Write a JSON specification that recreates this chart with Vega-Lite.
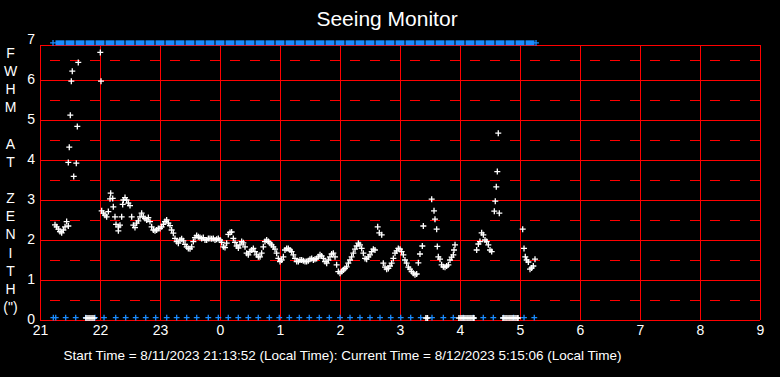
{
  "$schema": "https://vega.github.io/schema/vega-lite/v6.json",
  "width": 720,
  "height": 280,
  "autosize": {"type": "none"},
  "padding": {"left": 40, "top": 40, "right": 20, "bottom": 57},
  "background": "black",
  "config": {"view": {"stroke": null}, "font": "Liberation Sans", "axis": {"labelOverlap": false}},
  "title": {"text": "Seeing Monitor", "color": "white", "fontSize": 21, "font": "Liberation Sans", "fontWeight": "normal", "anchor": "middle", "dx": -13, "dy": 25, "baseline": "alphabetic", "offset": 11},
  "datasets": {
    "hgrid": [{"v":0},{"v":1},{"v":2},{"v":3},{"v":4},{"v":5},{"v":6}],
    "ylabels": [{"v":0},{"v":1},{"v":2},{"v":3},{"v":4},{"v":5},{"v":6},{"v":7}],
    "dgrid": [{"v":0.5},{"v":1.5},{"v":2.5},{"v":3.5},{"v":4.5},{"v":5.5},{"v":6.5}],
    "vgrid": [{"h":21},{"h":22},{"h":23},{"h":24},{"h":25},{"h":26},{"h":27},{"h":28},{"h":29},{"h":30},{"h":31},{"h":32},{"h":33}],
    "blueTop": [{"h":21.333},{"h":21.5},{"h":21.667},{"h":21.833},{"h":22.0},{"h":22.167},{"h":22.333},{"h":22.5},{"h":22.667},{"h":22.833},{"h":23.0},{"h":23.167},{"h":23.333},{"h":23.5},{"h":23.667},{"h":23.833},{"h":24.0},{"h":24.167},{"h":24.333},{"h":24.5},{"h":24.667},{"h":24.833},{"h":25.0},{"h":25.167},{"h":25.333},{"h":25.5},{"h":25.667},{"h":25.833},{"h":26.0},{"h":26.167},{"h":26.333},{"h":26.5},{"h":26.667},{"h":26.833},{"h":27.0},{"h":27.167},{"h":27.333},{"h":27.5},{"h":27.667},{"h":27.833},{"h":28.0},{"h":28.167},{"h":28.333},{"h":28.5},{"h":28.667},{"h":28.833},{"h":29.0},{"h":29.167}],
    "blueTopEnds": [{"h":21.217},{"h":29.267}],
    "blueBottom": [{"h":21.222},{"h":21.262},{"h":21.428},{"h":21.595},{"h":21.762},{"h":21.917},{"h":22.067},{"h":22.262},{"h":22.428},{"h":22.595},{"h":22.762},{"h":22.928},{"h":23.112},{"h":23.278},{"h":23.445},{"h":23.612},{"h":23.805},{"h":23.972},{"h":24.138},{"h":24.305},{"h":24.472},{"h":24.638},{"h":24.822},{"h":24.988},{"h":25.155},{"h":25.322},{"h":25.488},{"h":25.655},{"h":25.822},{"h":26.0},{"h":26.167},{"h":26.333},{"h":26.5},{"h":26.667},{"h":26.845},{"h":27.012},{"h":27.178},{"h":27.345},{"h":27.533},{"h":27.722},{"h":27.888},{"h":28.055},{"h":28.222},{"h":28.388},{"h":28.555},{"h":28.725},{"h":28.892},{"h":29.067},{"h":29.238}],
    "whiteBottom": [{"h":21.767},{"h":21.8},{"h":21.833},{"h":21.867},{"h":21.9},{"h":27.433},{"h":27.458},{"h":27.983},{"h":28.017},{"h":28.05},{"h":28.083},{"h":28.117},{"h":28.15},{"h":28.183},{"h":28.217},{"h":28.233},{"h":28.717},{"h":28.75},{"h":28.783},{"h":28.817},{"h":28.85},{"h":28.883},{"h":28.917},{"h":28.95},{"h":28.967}],
    "fwhm": [
      {"h":21.25,"v":2.38},{"h":21.278,"v":2.33},{"h":21.306,"v":2.27},{"h":21.333,"v":2.21},{"h":21.361,"v":2.18},{"h":21.389,"v":2.25},{"h":21.417,"v":2.33},{"h":21.444,"v":2.46},{"h":21.472,"v":2.35},
      {"h":21.472,"v":3.94},{"h":21.488,"v":4.32},{"h":21.505,"v":5.12},{"h":21.522,"v":5.97},{"h":21.538,"v":6.22},{"h":21.562,"v":3.59},{"h":21.605,"v":3.92},{"h":21.622,"v":4.84},{"h":21.638,"v":6.44},
      {"h":22.005,"v":6.69},{"h":22.017,"v":5.97},
      {"h":22.028,"v":2.73},{"h":22.056,"v":2.67},{"h":22.083,"v":2.62},{"h":22.111,"v":2.58},{"h":22.139,"v":2.71},{"h":22.167,"v":3.03},{"h":22.178,"v":3.17},{"h":22.212,"v":3.04},{"h":22.222,"v":2.83},{"h":22.25,"v":2.58},{"h":22.267,"v":2.39},{"h":22.306,"v":2.33},{"h":22.306,"v":2.23},{"h":22.333,"v":2.37},{"h":22.361,"v":2.58},{"h":22.378,"v":2.89},{"h":22.389,"v":3.0},{"h":22.417,"v":3.06},{"h":22.444,"v":3.0},{"h":22.472,"v":2.92},{"h":22.5,"v":2.86},{"h":22.528,"v":2.58},{"h":22.556,"v":2.37},{"h":22.583,"v":2.31},{"h":22.611,"v":2.42},{"h":22.639,"v":2.48},{"h":22.667,"v":2.58},{"h":22.694,"v":2.67},{"h":22.722,"v":2.58},{"h":22.75,"v":2.54},{"h":22.778,"v":2.5},{"h":22.806,"v":2.56},{"h":22.833,"v":2.46},{"h":22.861,"v":2.33},{"h":22.889,"v":2.25},{"h":22.917,"v":2.23},{"h":22.944,"v":2.25},{"h":22.972,"v":2.29},
      {"h":23.0,"v":2.29},{"h":23.028,"v":2.33},{"h":23.056,"v":2.39},{"h":23.083,"v":2.46},{"h":23.111,"v":2.5},{"h":23.139,"v":2.42},{"h":23.167,"v":2.36},{"h":23.194,"v":2.25},{"h":23.222,"v":2.17},{"h":23.25,"v":2.04},{"h":23.278,"v":1.96},{"h":23.306,"v":1.92},{"h":23.333,"v":2.0},{"h":23.361,"v":2.03},{"h":23.389,"v":1.98},{"h":23.417,"v":1.89},{"h":23.444,"v":1.83},{"h":23.472,"v":1.79},{"h":23.5,"v":1.78},{"h":23.528,"v":1.83},{"h":23.556,"v":1.96},{"h":23.583,"v":2.06},{"h":23.611,"v":2.11},{"h":23.639,"v":2.08},{"h":23.667,"v":2.06},{"h":23.694,"v":2.04},{"h":23.722,"v":2.06},{"h":23.75,"v":2.0},{"h":23.778,"v":2.0},{"h":23.806,"v":2.04},{"h":23.833,"v":2.04},{"h":23.861,"v":2.03},{"h":23.889,"v":2.04},{"h":23.917,"v":2.0},{"h":23.944,"v":2.02},{"h":23.972,"v":2.04},
      {"h":24.0,"v":2.0},{"h":24.028,"v":1.94},{"h":24.056,"v":1.83},{"h":24.083,"v":1.81},{"h":24.111,"v":1.92},{"h":24.139,"v":2.14},{"h":24.167,"v":2.19},{"h":24.194,"v":2.2},{"h":24.222,"v":2.04},{"h":24.25,"v":1.94},{"h":24.278,"v":1.85},{"h":24.306,"v":1.8},{"h":24.333,"v":1.88},{"h":24.361,"v":1.96},{"h":24.389,"v":1.93},{"h":24.417,"v":1.83},{"h":24.444,"v":1.67},{"h":24.472,"v":1.63},{"h":24.5,"v":1.71},{"h":24.528,"v":1.75},{"h":24.556,"v":1.79},{"h":24.583,"v":1.71},{"h":24.611,"v":1.63},{"h":24.639,"v":1.58},{"h":24.667,"v":1.58},{"h":24.694,"v":1.67},{"h":24.722,"v":1.83},{"h":24.75,"v":1.96},{"h":24.778,"v":2.0},{"h":24.806,"v":1.96},{"h":24.833,"v":1.92},{"h":24.861,"v":1.88},{"h":24.889,"v":1.83},{"h":24.917,"v":1.77},{"h":24.944,"v":1.67},{"h":24.972,"v":1.54},
      {"h":25.0,"v":1.46},{"h":25.028,"v":1.5},{"h":25.056,"v":1.58},{"h":25.083,"v":1.75},{"h":25.111,"v":1.79},{"h":25.139,"v":1.79},{"h":25.167,"v":1.75},{"h":25.194,"v":1.71},{"h":25.222,"v":1.63},{"h":25.25,"v":1.54},{"h":25.278,"v":1.46},{"h":25.306,"v":1.46},{"h":25.333,"v":1.5},{"h":25.361,"v":1.5},{"h":25.389,"v":1.48},{"h":25.417,"v":1.46},{"h":25.444,"v":1.46},{"h":25.472,"v":1.48},{"h":25.5,"v":1.52},{"h":25.528,"v":1.54},{"h":25.556,"v":1.5},{"h":25.583,"v":1.52},{"h":25.611,"v":1.54},{"h":25.639,"v":1.58},{"h":25.667,"v":1.63},{"h":25.694,"v":1.6},{"h":25.722,"v":1.54},{"h":25.75,"v":1.46},{"h":25.778,"v":1.42},{"h":25.806,"v":1.5},{"h":25.833,"v":1.58},{"h":25.861,"v":1.65},{"h":25.889,"v":1.67},{"h":25.917,"v":1.58},{"h":25.944,"v":1.38},{"h":25.972,"v":1.21},
      {"h":26.0,"v":1.17},{"h":26.028,"v":1.21},{"h":26.056,"v":1.25},{"h":26.083,"v":1.29},{"h":26.111,"v":1.33},{"h":26.139,"v":1.42},{"h":26.167,"v":1.5},{"h":26.194,"v":1.58},{"h":26.222,"v":1.67},{"h":26.25,"v":1.77},{"h":26.278,"v":1.85},{"h":26.306,"v":1.92},{"h":26.333,"v":1.88},{"h":26.361,"v":1.79},{"h":26.389,"v":1.67},{"h":26.417,"v":1.54},{"h":26.444,"v":1.52},{"h":26.472,"v":1.58},{"h":26.5,"v":1.63},{"h":26.528,"v":1.71},{"h":26.556,"v":1.77},{"h":26.583,"v":1.75},{"h":26.628,"v":2.33},{"h":26.655,"v":2.18},{"h":26.695,"v":2.13},{"h":26.722,"v":1.42},{"h":26.75,"v":1.32},{"h":26.778,"v":1.27},{"h":26.806,"v":1.29},{"h":26.833,"v":1.35},{"h":26.861,"v":1.42},{"h":26.889,"v":1.54},{"h":26.917,"v":1.67},{"h":26.944,"v":1.73},{"h":26.972,"v":1.79},
      {"h":27.0,"v":1.77},{"h":27.028,"v":1.71},{"h":27.056,"v":1.63},{"h":27.083,"v":1.5},{"h":27.111,"v":1.42},{"h":27.139,"v":1.32},{"h":27.167,"v":1.27},{"h":27.194,"v":1.21},{"h":27.222,"v":1.17},{"h":27.25,"v":1.13},{"h":27.278,"v":1.15},{"h":27.306,"v":1.43},{"h":27.333,"v":1.65},{"h":27.372,"v":1.85},{"h":27.389,"v":2.35},{"h":27.528,"v":3.02},{"h":27.567,"v":2.73},{"h":27.583,"v":2.52},{"h":27.611,"v":2.27},{"h":27.622,"v":1.84},{"h":27.639,"v":1.58},{"h":27.667,"v":1.52},{"h":27.694,"v":1.38},{"h":27.722,"v":1.33},{"h":27.75,"v":1.32},{"h":27.778,"v":1.35},{"h":27.806,"v":1.38},{"h":27.833,"v":1.5},{"h":27.861,"v":1.57},{"h":27.889,"v":1.63},{"h":27.9,"v":1.75},{"h":27.917,"v":1.88},
      {"h":28.278,"v":1.75},{"h":28.306,"v":1.9},{"h":28.333,"v":1.96},{"h":28.361,"v":2.18},{"h":28.389,"v":2.13},{"h":28.417,"v":2.0},{"h":28.444,"v":1.96},{"h":28.472,"v":1.88},{"h":28.5,"v":1.75},{"h":28.528,"v":1.71},{"h":28.572,"v":2.72},{"h":28.588,"v":2.97},{"h":28.605,"v":3.33},{"h":28.622,"v":3.71},{"h":28.638,"v":4.67},{"h":28.655,"v":2.67},
      {"h":29.045,"v":2.27},{"h":29.067,"v":1.79},{"h":29.088,"v":1.58},{"h":29.111,"v":1.5},{"h":29.139,"v":1.45},{"h":29.167,"v":1.27},{"h":29.194,"v":1.3},{"h":29.222,"v":1.35},{"h":29.25,"v":1.52}
    ]
  },
  "layer": [
    {
      "data": {"name": "hgrid"},
      "mark": {"type": "rule", "color": "#ff0000", "strokeWidth": 1, "yOffset": 0.5},
      "encoding": {
        "y": {"field": "v", "type": "quantitative", "scale": {"domain": [0, 7], "nice": false, "zero": false},
          "axis": {"values": [0,1,2,3,4,5,6,7], "domain": false, "ticks": false, "grid": false, "labels": false,
            "title": ["F","W","H","M","\u2800","A","T","\u2800","Z","E","N","I","T","H","(\")"],
            "titleAngle": 0, "titleAlign": "center", "titleBaseline": "top", "titleX": -30, "titleY": 6, "titleLineHeight": 18.2, "titleFontSize": 14, "titleFontWeight": "normal", "titleColor": "white", "titleFont": "Liberation Sans"}}
      }
    },
    {
      "data": {"name": "vgrid"},
      "mark": {"type": "rule", "color": "#ff0000", "strokeWidth": 1, "xOffset": 0.5},
      "encoding": {
        "x": {"field": "h", "type": "quantitative", "scale": {"domain": [21, 33], "nice": false, "zero": false},
          "axis": {"values": [21,22,23,24,25,26,27,28,29,30,31,32,33], "labelExpr": "'' + (datum.value % 24)", "domain": false, "ticks": false, "grid": false, "labelFlush": false, "labelOverlap": false, "labelColor": "white", "labelFontSize": 14, "labelFont": "Liberation Sans", "labelPadding": 3,
            "title": "Start Time = 8/11/2023 21:13:52 (Local Time): Current Time = 8/12/2023 5:15:06 (Local Time)",
            "titleX": 302, "titleY": 39, "titleAlign": "center", "titleBaseline": "alphabetic", "titleFontSize": 13.5, "titleFontWeight": "normal", "titleColor": "white", "titleFont": "Liberation Sans"}},
        "y": {"datum": 0, "type": "quantitative"},
        "y2": {"datum": 6.875}
      }
    },
    {
      "data": {"name": "dgrid"},
      "mark": {"type": "rule", "color": "#ff0000", "strokeWidth": 1, "yOffset": 0.5, "strokeDash": [10, 10]},
      "encoding": {"y": {"field": "v", "type": "quantitative"}}
    },
    {
      "data": {"values": [{}]},
      "mark": {"type": "rule", "color": "#ff0000", "strokeWidth": 1, "yOffset": 0.5},
      "encoding": {"y": {"datum": 6.875, "type": "quantitative"}}
    },
    {
      "data": {"name": "ylabels"},
      "mark": {"type": "text", "color": "white", "fontSize": 14, "font": "Liberation Sans", "align": "right", "baseline": "middle", "dx": -5},
      "encoding": {"x": {"datum": 21, "type": "quantitative"}, "y": {"field": "v", "type": "quantitative"}, "text": {"field": "v", "type": "quantitative"}}
    },
    {
      "data": {"name": "blueTop"},
      "mark": {"type": "point", "shape": "M-1,-0.55H1V0.55H-1Z", "size": 81, "filled": true, "fill": "#1a8cff", "opacity": 1, "strokeWidth": 0},
      "encoding": {"x": {"field": "h", "type": "quantitative"}, "y": {"datum": 6.93, "type": "quantitative"}}
    },
    {
      "data": {"name": "blueTopEnds"},
      "mark": {"type": "point", "shape": "M-1,0H1M0,-1V1", "size": 34, "filled": false, "stroke": "#1a8cff", "strokeWidth": 1.3, "opacity": 1},
      "encoding": {"x": {"field": "h", "type": "quantitative"}, "y": {"datum": 6.93, "type": "quantitative"}}
    },
    {
      "data": {"name": "blueBottom"},
      "mark": {"type": "point", "shape": "M-1,0H1M0,-1V1", "size": 34, "filled": false, "stroke": "#1a8cff", "strokeWidth": 1.3, "opacity": 1},
      "encoding": {"x": {"field": "h", "type": "quantitative"}, "y": {"datum": 0.06, "type": "quantitative"}}
    },
    {
      "data": {"name": "whiteBottom"},
      "mark": {"type": "point", "shape": "M-1,0H1M0,-1V1", "size": 34, "filled": false, "stroke": "white", "strokeWidth": 1.5, "opacity": 1},
      "encoding": {"x": {"field": "h", "type": "quantitative"}, "y": {"datum": 0.05, "type": "quantitative"}}
    },
    {
      "data": {"name": "fwhm"},
      "mark": {"type": "point", "shape": "M-1,0H1M0,-1V1", "size": 36, "filled": false, "stroke": "white", "strokeWidth": 1.3, "opacity": 1},
      "encoding": {"x": {"field": "h", "type": "quantitative"}, "y": {"field": "v", "type": "quantitative"}}
    }
  ]
}
